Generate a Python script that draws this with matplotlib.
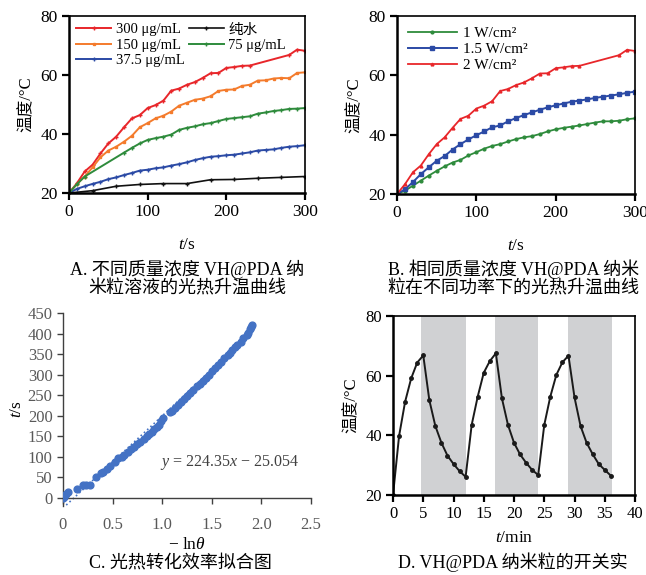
import matplotlib
matplotlib.use('Agg')
import matplotlib.pyplot as plt
import numpy as np

plt.rcParams['font.family'] = ['Liberation Serif', 'Noto Sans CJK SC']
plt.rcParams['mathtext.fontset'] = 'custom'
plt.rcParams['mathtext.rm'] = 'Liberation Serif'
plt.rcParams['mathtext.it'] = 'Liberation Serif:italic'
plt.rcParams['axes.unicode_minus'] = False

# ---- A: different concentrations ----
t_a = list(range(0, 310, 10))
red_t = list(range(0, 240, 10)) + [280, 290, 300]
red_T = [20, 23.3, 27.3, 29.6, 33.4, 36.8, 39.1, 42.3, 45.3, 46.4, 48.8, 49.8, 51.3,
         54.7, 55.4, 56.7, 57.6, 59.0, 60.6, 60.7, 62.4, 62.7, 63.1, 63.2, 66.8, 68.6, 68.2]
orange_T = [20, 23, 25.6, 28.7, 32.1, 34.4, 35.7, 37.4, 39.4, 42.3, 43.7, 45.3, 46.2,
            47.6, 49.6, 50.6, 51.6, 52.0, 52.8, 54.6, 55.0, 55.1, 56.3, 56.7, 58.1, 58.2,
            58.8, 59.0, 58.9, 60.7, 60.9]
green_t = [0, 10, 20] + list(range(70, 310, 10))
green_T = [20, 23.0, 25.6, 33.7, 35.3, 36.8, 38.0, 38.6, 39.1, 39.8, 41.4, 42.1, 42.6,
           43.3, 43.7, 44.4, 45.1, 45.4, 45.7, 46.0, 46.9, 47.3, 47.8, 48.1, 48.5, 48.6, 48.8]
blue_T = [20, 21.4, 22.3, 23.1, 23.8, 24.7, 25.3, 26.1, 26.8, 27.6, 27.9, 28.4, 28.7,
          29.3, 29.8, 30.4, 31.2, 31.8, 32.3, 32.5, 32.8, 33.0, 33.4, 33.8, 34.4, 34.6,
          34.8, 35.3, 35.7, 35.9, 36.2]
water_t = list(range(0, 310, 30))
water_T = [20, 20.8, 22.3, 22.9, 23.2, 23.2, 24.5, 24.6, 25.0, 25.3, 25.6]

# ---- B: different power ----
p1_T = [20, 21.1, 22.8, 24.5, 26.2, 27.8, 29.3, 30.6, 31.5, 33.0, 34.1, 35.3, 36.2,
        36.8, 37.7, 38.5, 39.1, 39.5, 40.2, 41.1, 41.8, 42.3, 42.7, 43.1, 43.6, 44.1,
        44.5, 44.5, 44.7, 45.2, 45.5]
p15_T = [20, 21.6, 24.0, 26.7, 29.0, 31.2, 32.8, 35.0, 36.8, 38.4, 39.8, 41.1, 42.5,
         43.1, 44.5, 45.6, 46.6, 47.5, 48.4, 49.2, 49.9, 50.5, 51.1, 51.5, 51.9, 52.4,
         52.8, 53.2, 53.6, 54.1, 54.5]

# ---- C: fit ----
lnth = [0.00, 0.01, 0.03, 0.05, 0.14, 0.20, 0.23, 0.27, 0.33, 0.38, 0.40, 0.44, 0.47,
        0.52, 0.55, 0.59, 0.62, 0.66, 0.69, 0.72, 0.75, 0.78, 0.82, 0.85, 0.87, 0.90,
        0.92, 0.95, 0.97, 0.99, 1.01, 1.08, 1.10, 1.13, 1.16, 1.19, 1.22, 1.25, 1.28,
        1.31, 1.35, 1.38, 1.41, 1.44, 1.47, 1.50, 1.53, 1.56, 1.59, 1.62, 1.66, 1.68,
        1.70, 1.73, 1.75, 1.79, 1.81, 1.86, 1.87, 1.89, 1.90, 1.91]
t_c = [0, 3, 9, 13, 22, 30, 32, 30, 50, 60, 62, 70, 78, 87, 96, 100, 104, 112, 118, 124,
       130, 136, 143, 150, 155, 161, 167, 172, 178, 187, 195, 208, 212, 219, 227, 234,
       240, 248, 256, 262, 271, 278, 285, 292, 300, 308, 315, 323, 330, 340, 348, 353,
       360, 366, 372, 380, 388, 396, 402, 410, 415, 420]
slope, intercept = 224.35, -25.054

# ---- D: on/off cycles ----
t_d = list(range(0, 37))
T_d = [20, 39.8, 51.3, 59.1, 64.4, 66.8, 51.8, 43.1, 37.5, 33.2, 30.4, 28.0, 26.1,
       43.5, 53.0, 61.0, 64.9, 67.5, 52.4, 43.5, 37.5, 33.6, 30.8, 28.4, 26.7,
       43.5, 53.0, 60.3, 64.5, 66.7, 52.7, 43.1, 37.5, 33.7, 30.4, 28.4, 26.5]
off_start = [4.7, 16.8, 28.9]
off_end = [12.0, 24.0, 36.2]

fig = plt.figure(figsize=(6.46, 5.75), dpi=100)


def style_box(ax, size=12.5):
    for s in ['left', 'bottom']:
        ax.spines[s].set_linewidth(1.8)
    for s in ['top', 'right']:
        ax.spines[s].set_linewidth(1.2)
    ax.tick_params(direction='out', length=5, width=1.6, labelsize=size, pad=3)


# A
axA = fig.add_axes([0.1068, 0.6643, 0.3653, 0.3079])
ms = 2.5
axA.plot(red_t, red_T, color='#e8262a', lw=1.4, marker='+', ms=ms, label='300 μg/mL')
axA.plot(t_a, orange_T, color='#f47b2c', lw=1.4, marker='s', ms=2, label='150 μg/mL')
axA.plot(t_a, blue_T, color='#2b4aa5', lw=1.4, marker='+', ms=ms, label='37.5 μg/mL')
axA.plot(water_t, water_T, color='#111111', lw=1.2, marker='+', ms=ms, label='纯水')
axA.plot(green_t, green_T, color='#2e8b3c', lw=1.4, marker='+', ms=ms, label='75 μg/mL')
axA.set_xlim(0, 300)
axA.set_ylim(20, 80)
axA.set_xticks([0, 100, 200, 300])
axA.set_yticks([20, 40, 60, 80])
style_box(axA)
axA.set_xlabel('$t$/s', fontsize=12.5, labelpad=12)
axA.set_ylabel('温度/°C', fontsize=12, labelpad=4)
axA.legend(ncol=2, loc='upper left', frameon=False, fontsize=10.5, handlelength=2.4,
           borderaxespad=0.1, labelspacing=0.15, columnspacing=0.3, handletextpad=0.3)
fig.text(0.29, 0.515, 'A. 不同质量浓度 VH@PDA 纳\n米粒溶液的光热升温曲线',
         ha='center', va='center', fontsize=13, linespacing=1.1)

# B
axB = fig.add_axes([0.6146, 0.6626, 0.3684, 0.3096])
axB.plot(t_a, p1_T, color='#2e8b3c', lw=1.3, marker='o', ms=2, label='1 W/cm²')
axB.plot(t_a, p15_T, color='#2b4aa5', lw=1.4, marker='s', ms=2.5, label='1.5 W/cm²')
axB.plot(red_t, red_T, color='#e8262a', lw=1.3, marker='^', ms=2, label='2 W/cm²')
axB.set_xlim(0, 300)
axB.set_ylim(20, 80)
axB.set_xticks([0, 100, 200, 300])
axB.set_yticks([20, 40, 60, 80])
style_box(axB)
axB.set_xlabel('$t$/s', fontsize=12.5, labelpad=12)
axB.set_ylabel('温度/°C', fontsize=12, labelpad=4)
axB.legend(loc='upper left', frameon=False, fontsize=11, handlelength=3.2,
           borderaxespad=0.3, labelspacing=0.15, handletextpad=0.4)
fig.text(0.795, 0.515, 'B. 相同质量浓度 VH@PDA 纳米\n粒在不同功率下的光热升温曲线',
         ha='center', va='center', fontsize=13, linespacing=1.1)

# C
axC = fig.add_axes([0.0975, 0.12, 0.3839, 0.3357])
fx = np.array([0, max(lnth)])
axC.plot(fx, slope * fx + intercept, ls=':', color='#4472c4', lw=1.2)
axC.scatter(lnth, t_c, s=24, color='#4472c4', zorder=3)
axC.set_xlim(0, 2.5)
axC.set_ylim(-20, 450)
axC.spines['top'].set_visible(False)
axC.spines['right'].set_visible(False)
axC.spines['bottom'].set_position(('data', 0))
for s in ['left', 'bottom']:
    axC.spines[s].set_color('#404040')
    axC.spines[s].set_linewidth(1.0)
axC.set_xticks([0, 0.5, 1.0, 1.5, 2.0, 2.5])
axC.set_xticklabels(['0', '0.5', '1.0', '1.5', '2.0', '2.5'])
axC.set_yticks(range(0, 451, 50))
axC.tick_params(direction='out', length=4, width=1, labelsize=12,
                colors='#404040', labelcolor='#595959')
axC.tick_params(axis='x', pad=10)
axC.set_xlabel('− ln$\\theta$', fontsize=12.5, labelpad=3)
axC.set_ylabel('$t$/s', fontsize=12.5, labelpad=2)
axC.text(1.68, 85, '$y$ = 224.35$x$ − 25.054', ha='center', va='center', fontsize=11.5,
         color='#404040')
fig.text(0.279, 0.005, 'C. 光热转化效率拟合图', ha='center', va='bottom', fontsize=13)

# D
axD = fig.add_axes([0.6084, 0.1391, 0.3746, 0.3113])
for a, b in zip(off_start, off_end):
    axD.axvspan(a, b, color='#d0d1d3', lw=0)
axD.plot(t_d, T_d, color='#1a1a1a', lw=1.4, marker='o', ms=2.5)
axD.set_xlim(0, 40)
axD.set_ylim(20, 80)
axD.set_xticks(range(0, 41, 5))
axD.set_yticks([20, 40, 60, 80])
style_box(axD, 12)
axD.set_xlabel('$t$/min', fontsize=12.5, labelpad=6)
axD.set_ylabel('温度/°C', fontsize=12, labelpad=4)
fig.text(0.794, 0.005, 'D. VH@PDA 纳米粒的开关实', ha='center', va='bottom', fontsize=13)

fig.savefig('out.png', dpi=100)
